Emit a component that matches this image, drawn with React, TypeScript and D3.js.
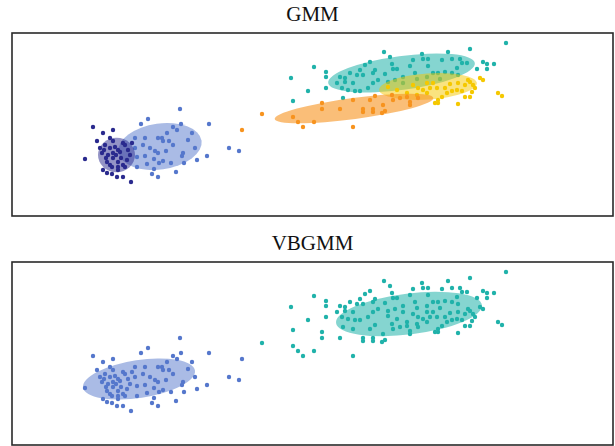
import * as d3 from "d3";

// data units: x 0..60.1, y 0..18.3 (both panels share the same samples)
// tuples: [x, y, vbgmm component]
const navyPts = [
  [8.1, 8.9, 0], [9.1, 8.3, 0], [10.1, 8.6, 0], [8.5, 7.5, 0], [7.3, 5.7, 0], [11.9, 3.4, 0],
  [11.1, 3.9, 0], [10.5, 3.9, 0], [10.0, 4.2, 0], [9.5, 4.3, 0], [9.1, 4.6, 0], [9.8, 7.8, 0],
  [10.1, 7.5, 0], [9.3, 7.1, 0], [9.8, 6.8, 0], [9.6, 6.1, 0], [10.1, 5.8, 0], [10.6, 5.4, 0],
  [10.6, 4.9, 0], [11.1, 5.1, 0], [11.6, 6.6, 0], [12.0, 7.3, 0], [9.0, 6.3, 0], [9.5, 5.4, 0],
  [10.0, 4.9, 0], [11.5, 5.6, 0], [10.8, 6.4, 0], [10.3, 6.9, 0], [10.6, 6.6, 0], [10.6, 4.6, 0],
  [11.3, 4.9, 0], [11.8, 6.1, 0], [11.1, 7.3, 0], [8.8, 6.8, 0], [9.2, 6.6, 0], [10.4, 6.1, 0],
  [10.9, 5.8, 0], [9.8, 5.1, 0], [11.3, 7.1, 0], [9.4, 5.8, 0], [10.1, 6.3, 0],
];

const cornflowerPts = [
  [16.8, 10.7, 0], [12.9, 9.2, 0], [13.6, 9.7, 0], [16.9, 9.2, 0], [19.7, 9.2, 0], [16.1, 8.9, 0],
  [16.5, 8.6, 0], [18.0, 8.3, 0], [15.5, 8.3, 0], [14.6, 7.8, 0], [15.0, 7.8, 0], [15.1, 7.5, 0],
  [15.7, 7.5, 0], [14.3, 6.5, 0], [14.6, 6.3, 0], [15.4, 6.5, 0], [17.1, 6.3, 0], [17.0, 6.0, 0],
  [19.5, 6.0, 0], [21.7, 6.8, 0], [22.7, 6.5, 0], [14.2, 5.7, 0], [14.7, 5.3, 0], [15.1, 5.5, 0],
  [15.9, 5.3, 0], [17.2, 5.3, 0], [16.4, 4.4, 0], [14.2, 4.7, 0], [14.0, 4.2, 0], [14.6, 3.9, 0],
  [13.3, 7.8, 0], [12.3, 7.8, 0], [13.1, 7.1, 0], [13.3, 6.0, 0], [12.5, 5.9, 0], [12.5, 4.9, 0],
  [13.5, 5.2, 0], [12.3, 6.8, 0], [17.6, 7.6, 0], [16.1, 7.1, 0], [18.3, 6.8, 0], [13.8, 6.8, 0],
  [18.5, 5.6, 0],
];

const orangePts = [
  [23.0, 8.6, 0], [25.0, 10.2, 1], [28.1, 9.9, 1], [28.6, 9.4, 1], [29.1, 8.9, 1], [30.2, 9.4, 1],
  [31.0, 11.3, 1], [31.0, 10.7, 1], [32.8, 10.7, 1], [34.1, 11.6, 1], [34.1, 8.9, 1], [35.1, 10.7, 1],
  [35.1, 10.4, 1], [36.1, 10.7, 1], [36.1, 10.4, 1], [37.0, 10.3, 1], [37.3, 10.5, 1], [37.1, 11.1, 1],
  [36.3, 12.0, 1], [35.8, 11.6, 1], [38.1, 11.6, 1], [38.8, 11.8, 1], [39.8, 11.1, 1], [39.8, 11.4, 1],
  [40.6, 11.8, 1], [38.0, 12.1, 1], [39.5, 11.9, 1],
];

const goldPts = [
  [46.8, 13.8, 1], [47.1, 13.6, 1], [48.6, 12.3, 1], [49.0, 12.0, 1], [45.8, 13.4, 1], [46.1, 13.1, 1],
  [46.3, 12.8, 1], [46.0, 12.4, 1], [45.8, 11.9, 1], [45.3, 11.9, 1], [44.6, 11.2, 1], [42.6, 11.3, 1],
  [42.3, 11.3, 1], [42.6, 11.6, 1], [43.3, 12.8, 1], [44.0, 12.5, 1], [44.5, 12.6, 1], [45.0, 12.5, 1],
  [43.5, 12.3, 1], [43.0, 11.9, 1], [42.5, 12.8, 1], [43.8, 13.2, 1], [44.6, 13.3, 1], [45.3, 13.1, 1],
  [45.6, 13.6, 1], [40.6, 12.8, 1], [40.5, 12.1, 1], [39.5, 12.3, 1], [38.5, 12.6, 1], [37.6, 12.9, 1],
  [40.1, 13.1, 1], [41.5, 13.3, 1], [42.1, 13.3, 1], [41.5, 12.3, 1], [41.1, 12.6, 1], [41.8, 12.8, 1],
];

const tealPts = [
  [49.4, 17.3, 1], [37.2, 16.4, 1], [37.8, 15.9, 1], [41.0, 16.2, 1], [43.6, 16.4, 1], [45.8, 16.7, 1],
  [30.2, 14.9, 1], [31.4, 14.4, 1], [31.4, 13.9, 1], [27.9, 13.8, 1], [31.4, 12.8, 1], [29.6, 12.5, 1],
  [28.1, 11.5, 1], [35.8, 15.4, 1], [38.0, 15.2, 1], [40.1, 15.6, 1], [41.1, 15.7, 1], [41.6, 15.7, 1],
  [43.0, 15.6, 1], [44.0, 15.7, 1], [44.8, 15.7, 1], [45.5, 15.3, 1], [47.1, 15.4, 1], [47.5, 15.2, 1],
  [48.2, 15.2, 1], [47.5, 14.7, 1], [46.5, 14.7, 1], [38.1, 14.7, 1], [38.5, 14.7, 1], [36.3, 14.6, 1],
  [34.8, 14.6, 1], [33.8, 14.3, 1], [32.8, 13.9, 1], [33.3, 13.8, 1], [34.5, 14.1, 1], [35.1, 14.1, 1],
  [36.1, 14.3, 1], [37.3, 14.2, 1], [39.1, 13.9, 1], [40.3, 14.3, 1], [42.1, 14.3, 1], [42.6, 14.3, 1],
  [43.3, 14.4, 1], [44.0, 14.3, 1], [44.5, 14.8, 1], [45.0, 15.3, 1], [36.6, 13.6, 1], [37.6, 13.4, 1],
  [33.3, 13.4, 1], [32.5, 13.3, 1], [34.1, 13.3, 1], [35.6, 12.8, 1], [36.1, 13.3, 1], [33.0, 12.8, 1],
  [33.6, 12.6, 1], [34.3, 12.5, 1], [34.8, 12.5, 1], [33.1, 11.8, 1], [38.3, 13.6, 1], [39.1, 13.3, 1],
  [40.5, 13.7, 1], [41.5, 13.9, 1], [42.8, 13.7, 1], [44.6, 14.1, 1], [41.6, 15.0, 1], [39.8, 15.0, 1],
  [35.3, 15.1, 1],
];

const colors = ["#2a2a8e", "#20b2aa", "#5577cc", "#f5c800", "#f7931e"];
const ellipseOpacity = [0.5, 0.55, 0.5, 0.5, 0.6];

// GMM components: navy, teal, cornflower, gold, orange
const gmmGroups = [navyPts, tealPts, cornflowerPts, goldPts, orangePts];
// ellipses: [cx, cy, rx, ry, angle deg]
const gmmEllipses = [
  [10.45, 6.1, 1.85, 1.72, 0],
  [38.95, 14.3, 7.4, 1.7, 7.7],
  [14.8, 6.95, 4.2, 2.3, 8],
  [41.6, 12.95, 4.9, 1.3, 4],
  [34.2, 10.75, 8.0, 1.05, 7.6],
];
// drawing order of the GMM layers (navy circle sits over the cornflower ellipse)
const gmmOrder = [1, 2, 0, 3, 4];

// VBGMM: two active components (teal = 1, cornflower = 2 in the colour list)
const vbColorIdx = [2, 1];
const vbEllipses = [
  [12.7, 6.6, 5.66, 1.9, 8.6],
  [39.7, 13.1, 7.35, 2.05, 7],
];

const W = 615;
const H = 446;
const boxLeft = 12;
const boxRight = 613;

function Panel({ title, top, mode }: { title: string; top: number; mode: "gmm" | "vb" }) {
  const boxTop = top;
  const boxBottom = top + 183;
  const x = d3.scaleLinear().domain([0, 60.1]).range([boxLeft, boxRight]);
  const y = d3.scaleLinear().domain([0, 18.3]).range([boxBottom, boxTop]);
  const kx = x(1) - x(0);
  const ky = y(0) - y(1);

  const allPts = gmmGroups.flat();

  let layers: { color: string; op: number; pts: number[][]; ell: number[] }[] = [];
  if (mode === "gmm") {
    layers = gmmOrder.map((i) => ({
      color: colors[i],
      op: ellipseOpacity[i],
      pts: gmmGroups[i],
      ell: gmmEllipses[i],
    }));
  } else {
    layers = [1, 0].map((k) => ({
      color: colors[vbColorIdx[k]],
      op: ellipseOpacity[vbColorIdx[k]],
      pts: allPts.filter((p) => p[2] === k),
      ell: vbEllipses[k],
    }));
  }

  return (
    <g>
      <text
        x={(boxLeft + boxRight) / 2}
        y={boxTop - 12.5}
        textAnchor="middle"
        fontFamily="'Liberation Serif', 'DejaVu Serif', serif"
        fontSize={21}
        fill="#111"
      >
        {title}
      </text>
      <defs>
        <clipPath id={`clip-${mode}`}>
          <rect x={boxLeft} y={boxTop} width={boxRight - boxLeft} height={boxBottom - boxTop} />
        </clipPath>
      </defs>
      <g clipPath={`url(#clip-${mode})`}>
        {layers.map((l, i) => (
          <g key={i}>
            {l.pts.map((p, j) => (
              <circle key={j} cx={x(p[0])} cy={y(p[1])} r={2.2} fill={l.color} />
            ))}
            <ellipse
              transform={`translate(${x(l.ell[0])},${y(l.ell[1])}) rotate(${-l.ell[4]})`}
              rx={l.ell[2] * kx}
              ry={l.ell[3] * ky}
              fill={l.color}
              fillOpacity={l.op}
            />
          </g>
        ))}
      </g>
      <rect
        x={boxLeft}
        y={boxTop}
        width={boxRight - boxLeft}
        height={boxBottom - boxTop}
        fill="none"
        stroke="#2a2a2a"
        strokeWidth={1.6}
      />
    </g>
  );
}

export default function App() {
  return (
    <svg
      width={W}
      height={H}
      viewBox={`0 0 ${W} ${H}`}
      style={{ position: "absolute", left: 0, top: 0, background: "#fff" }}
    >
      <Panel title="GMM" top={33} mode="gmm" />
      <Panel title="VBGMM" top={262} mode="vb" />
    </svg>
  );
}
